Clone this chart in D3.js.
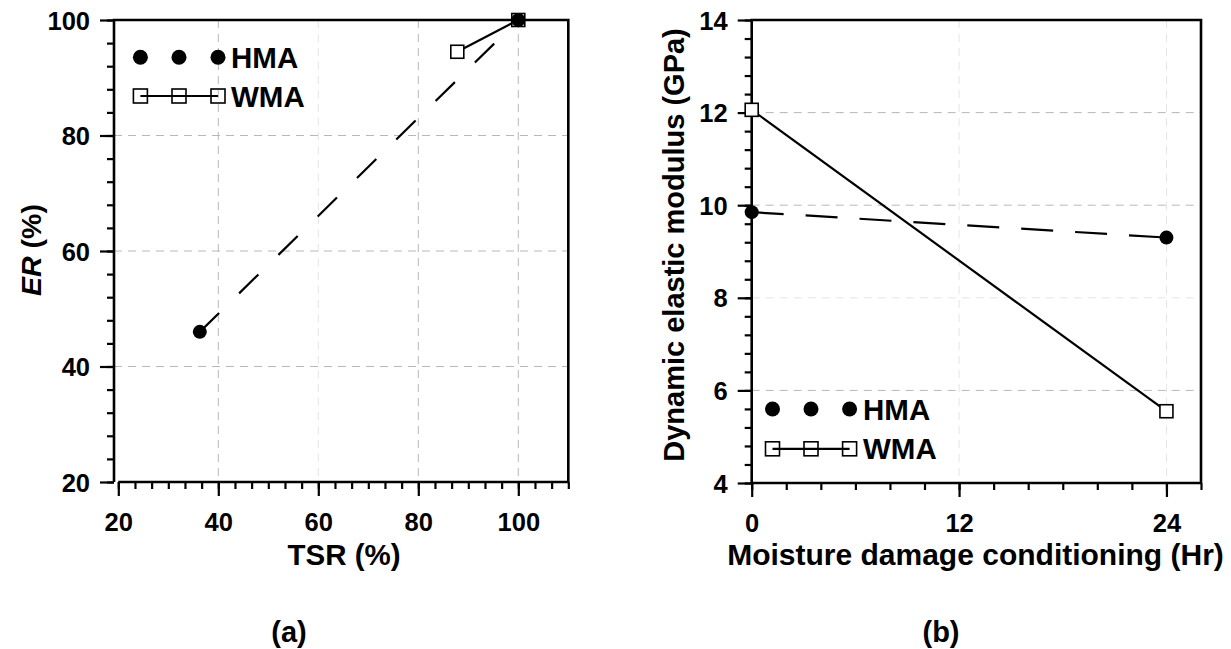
<!DOCTYPE html>
<html>
<head>
<meta charset="utf-8">
<script src="https://cdn.jsdelivr.net/npm/d3@7"></script>
<style>
  body { margin: 0; background: #fff; }
  svg text { font-family: "Liberation Sans", Arial, sans-serif; font-weight: bold; fill: #000; }
</style>
</head>
<body>
<div id="chart"></div>
<script>
// panel (a): ER vs TSR
const tsrHMA = [36.3, 100];
const erHMA = [46.0, 100];
const tsrWMA = [87.8, 100];
const erWMA = [94.5, 100];
const tsrTicks = [20, 40, 60, 80, 100];
const erTicks = [20, 40, 60, 80, 100];

// panel (b): modulus vs conditioning time
const hours = [0, 24];
const modHMA = [9.85, 9.30];
const modWMA = [12.06, 5.55];
const hourTicks = [0, 12, 24];
const modTicks = [4, 6, 8, 10, 12, 14];

const seriesNames = ["HMA", "WMA"];

const W = 1231, H = 649;
const svg = d3.select("#chart").append("svg")
    .attr("width", W)
    .attr("height", H);

function drawPanel(cfg) {
    const x = d3.scaleLinear().domain(cfg.xDomain).range(cfg.xRange);
    const y = d3.scaleLinear().domain(cfg.yDomain).range([cfg.bottom, cfg.top]);
    const g = svg.append("g");
    const yAxisX = cfg.yAxisX;
    const right = cfg.xRange[1];

    // grid
    g.selectAll(".gx").data(cfg.xGrid).enter().append("line")
        .attr("x1", d => x(d)).attr("x2", d => x(d))
        .attr("y1", cfg.top).attr("y2", cfg.bottom)
        .attr("stroke", d => cfg.faintX.includes(d) ? "#e4e4e4" : "#b8b8b8")
        .attr("stroke-width", 1)
        .attr("stroke-dasharray", "8,6");
    g.selectAll(".gy").data(cfg.yGrid).enter().append("line")
        .attr("x1", yAxisX).attr("x2", right)
        .attr("y1", d => y(d)).attr("y2", d => y(d))
        .attr("stroke", d => cfg.faintY.includes(d) ? "#e4e4e4" : "#b8b8b8")
        .attr("stroke-width", 1)
        .attr("stroke-dasharray", "8,6");

    // axes with minor ticks
    const xMinor = d3.axisBottom(x).tickValues(cfg.xMinor).tickSize(7).tickFormat("");
    const xMajor = d3.axisBottom(x).tickValues(cfg.xTicks).tickSize(14).tickPadding(17);
    const yMinor = d3.axisLeft(y).tickValues(cfg.yMinor).tickSize(7).tickFormat("");
    const yMajor = d3.axisLeft(y).tickValues(cfg.yTicks).tickSize(14).tickPadding(10);

    [xMinor, xMajor].forEach(a => {
        const ax = g.append("g").attr("transform", "translate(0," + cfg.bottom + ")").call(a);
        ax.select(".domain").remove();
        ax.selectAll("line").attr("stroke", "#000").attr("stroke-width", 2.2);
        ax.selectAll("text").style("font-size", "25.5px").attr("dy", "0.71em");
    });
    [yMinor, yMajor].forEach(a => {
        const ax = g.append("g").attr("transform", "translate(" + yAxisX + ",0)").call(a);
        ax.select(".domain").remove();
        ax.selectAll("line").attr("stroke", "#000").attr("stroke-width", 2.2);
        ax.selectAll("text").style("font-size", "25.5px").attr("dy", "0.36em");
    });

    // frame
    g.append("path")
        .attr("d", "M" + yAxisX + "," + cfg.bottom + "V" + cfg.top + "H" + right + "V" + cfg.bottom +
            "M" + cfg.xRange[0] + "," + cfg.bottom + "H" + right)
        .attr("fill", "none")
        .attr("stroke", "#000")
        .attr("stroke-width", 2.6);

    // series lines
    const line = d3.line().x(d => x(d[0])).y(d => y(d[1]));
    const hma = d3.zip(cfg.hmaX, cfg.hmaY);
    const wma = d3.zip(cfg.wmaX, cfg.wmaY);
    g.append("path").datum(hma).attr("d", line)
        .attr("fill", "none").attr("stroke", "#000").attr("stroke-width", 2.2)
        .attr("stroke-dasharray", cfg.dash);
    g.append("path").datum(wma).attr("d", line)
        .attr("fill", "none").attr("stroke", "#000").attr("stroke-width", 2.2);

    g.selectAll(".sq").data(wma).enter().append("rect")
        .attr("x", d => x(d[0]) - 6.5).attr("y", d => y(d[1]) - 6.5)
        .attr("width", 13).attr("height", 13)
        .attr("fill", "#fff").attr("stroke", "#000").attr("stroke-width", 1.6);
    g.selectAll(".dot").data(hma).enter().append("circle")
        .attr("cx", d => x(d[0])).attr("cy", d => y(d[1]))
        .attr("r", 7).attr("fill", "#000");

    // legend
    const lg = cfg.legend;
    lg.xs.forEach(px => {
        g.append("circle").attr("cx", px).attr("cy", lg.y1).attr("r", 7.5).attr("fill", "#000");
    });
    g.append("line").attr("x1", lg.xs[0]).attr("x2", lg.xs[2])
        .attr("y1", lg.y2).attr("y2", lg.y2)
        .attr("stroke", "#000").attr("stroke-width", 2.2);
    lg.xs.forEach(px => {
        g.append("rect").attr("x", px - 7).attr("y", lg.y2 - 7).attr("width", 14).attr("height", 14)
            .attr("fill", "none").attr("stroke", "#000").attr("stroke-width", 1.6);
    });
    g.selectAll(".lgt").data(seriesNames).enter().append("text")
        .attr("x", lg.textX)
        .attr("y", (d, i) => i === 0 ? lg.y1 : lg.y2)
        .attr("dy", "0.36em")
        .style("font-size", "29.5px")
        .text(d => d);

    // titles
    g.append("text")
        .attr("x", cfg.xTitleX)
        .attr("y", 565)
        .attr("text-anchor", "middle")
        .style("font-size", cfg.xTitleSize)
        .text(cfg.xTitle);

    const yt = g.append("text")
        .attr("transform", "translate(" + cfg.yTitleX + "," + cfg.yTitleY + ") rotate(-90)")
        .attr("text-anchor", "middle")
        .style("font-size", cfg.yTitleSize);
    cfg.yTitle(yt);

    g.append("text")
        .attr("x", cfg.labelX)
        .attr("y", 642)
        .attr("text-anchor", "middle")
        .style("font-size", "29px")
        .text(cfg.label);
}

drawPanel({
    xDomain: [20, 110], xRange: [118.3, 568.3],
    yDomain: [20, 100], top: 20, bottom: 482,
    yAxisX: 114,
    xTicks: tsrTicks, yTicks: erTicks,
    xMinor: d3.range(20, 110.01, 10 / 3), yMinor: d3.range(20, 100.01, 4),
    xGrid: [40, 60, 80, 100], yGrid: [40, 60, 80],
    faintX: [60], faintY: [],
    hmaX: tsrHMA, hmaY: erHMA, wmaX: tsrWMA, wmaY: erWMA,
    dash: "27,28",
    legend: { xs: [140.4, 179, 218], y1: 57.3, y2: 96, textX: 231 },
    xTitle: "TSR (%)", xTitleX: 344, xTitleSize: "29.5px",
    yTitleX: 41, yTitleY: 250, yTitleSize: "28.5px",
    yTitle: t => {
        t.append("tspan").style("font-style", "italic").text("ER");
        t.append("tspan").text(" (%)");
    },
    label: "(a)", labelX: 289
});

drawPanel({
    xDomain: [0, 26], xRange: [751.7, 1201],
    yDomain: [4, 14], top: 20, bottom: 483,
    yAxisX: 751.7,
    xTicks: hourTicks, yTicks: modTicks,
    xMinor: d3.range(0, 26.01, 2), yMinor: d3.range(4, 14.01, 0.4),
    xGrid: [12, 24], yGrid: [6, 8, 10, 12],
    faintX: [12, 24], faintY: [8],
    hmaX: hours, hmaY: modHMA, wmaX: hours, wmaY: modWMA,
    dash: "32,22",
    legend: { xs: [772.5, 811, 849.6], y1: 409, y2: 448.8, textX: 863 },
    xTitle: "Moisture damage conditioning (Hr)", xTitleX: 975.5, xTitleSize: "30px",
    yTitleX: 684, yTitleY: 245, yTitleSize: "29px",
    yTitle: t => t.text("Dynamic elastic modulus (GPa)"),
    label: "(b)", labelX: 941
});
</script>
</body>
</html>
